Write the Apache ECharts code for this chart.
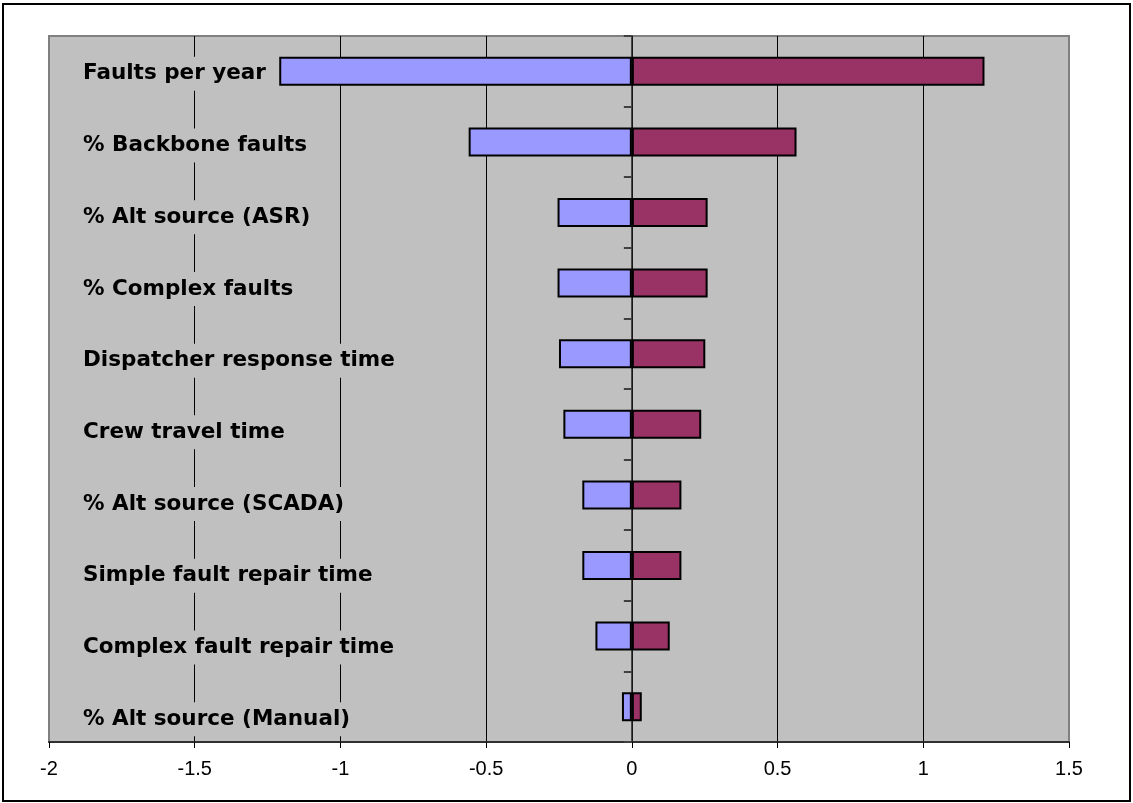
<!DOCTYPE html>
<html>
<head>
<meta charset="utf-8">
<title>Sensitivity tornado chart</title>
<script src="https://cdn.jsdelivr.net/npm/echarts@6/dist/echarts.min.js"></script>
<style>
  html, body { margin: 0; padding: 0; background: #ffffff; }
  #chart { width: 1133px; height: 803px; }
</style>
</head>
<body>
<div id="chart"></div>
<script>
// Input parameters, top to bottom
const categories = [
  'Faults per year',
  '% Backbone faults',
  '% Alt source (ASR)',
  '% Complex faults',
  'Dispatcher response time',
  'Crew travel time',
  '% Alt source (SCADA)',
  'Simple fault repair time',
  'Complex fault repair time',
  '% Alt source (Manual)'
];

// Change in result when each parameter is moved low / high
const lowValues  = [-1.21, -0.56, -0.255, -0.255, -0.25, -0.235, -0.17, -0.17, -0.125, -0.034];
const highValues = [ 1.21,  0.565, 0.26,   0.26,   0.252, 0.238,  0.17,  0.17,  0.13,   0.034];

// Horizontal scale
const xMin = -2;
const xMax = 1.5;
const xStep = 0.5;

const chart = echarts.init(document.getElementById('chart'), null, { renderer: 'canvas' });

const option = {
  backgroundColor: '#ffffff',
  animation: false,
  graphic: [{
    type: 'rect',
    shape: { x: 3, y: 4, width: 1127, height: 797 },
    style: { fill: 'none', stroke: '#000000', lineWidth: 2 },
    z: 100,
    silent: true
  }],
  grid: [
    {
      left: 49, top: 36, width: 1020, height: 706,
      show: true,
      backgroundColor: '#c0c0c0',
      borderColor: '#808080',
      borderWidth: 2
    },
    {
      // label lane for parameter names
      left: 49, top: 38, width: 1020, height: 717,
      show: false
    }
  ],
  xAxis: [
    {
      type: 'value',
      gridIndex: 0,
      min: xMin, max: xMax, interval: xStep,
      axisLine: { show: true, onZero: false, lineStyle: { color: '#303030', width: 2 } },
      axisTick: { show: true, inside: false, length: 6, lineStyle: { color: '#000000', width: 1 } },
      axisLabel: {
        show: true, margin: 17, color: '#000000',
        fontFamily: 'Liberation Sans, Arial, sans-serif', fontSize: 20
      },
      splitLine: {
        show: true, showMinLine: false, showMaxLine: false,
        lineStyle: { color: '#000000', width: 1 }
      }
    },
    {
      type: 'value',
      gridIndex: 1,
      min: xMin, max: xMax,
      show: false
    }
  ],
  yAxis: [
    {
      type: 'category',
      gridIndex: 0,
      data: categories,
      inverse: true,
      axisLine: { show: true, onZero: true, lineStyle: { color: '#202020', width: 1.5 } },
      axisTick: { show: true, inside: false, length: 8, lineStyle: { color: '#404040', width: 2 } },
      axisLabel: { show: false },
      splitLine: { show: false }
    },
    {
      type: 'category',
      gridIndex: 1,
      data: categories,
      inverse: true,
      z: 5,
      axisLine: { show: false },
      axisTick: { show: false },
      splitLine: { show: false },
      axisLabel: {
        show: true,
        inside: true,
        interval: 0,
        margin: 32,
        color: '#000000',
        fontFamily: 'DejaVu Sans, Liberation Sans, Arial, sans-serif',
        fontWeight: 'bold',
        fontSize: 21.5,
        backgroundColor: '#c0c0c0',
        padding: [6, 2, 6, 2]
      }
    }
  ],
  series: [
    {
      name: 'Low',
      type: 'bar',
      xAxisIndex: 0,
      yAxisIndex: 0,
      data: lowValues,
      barWidth: 29,
      barGap: '-100%',
      itemStyle: { color: '#9999ff', borderColor: '#000000', borderWidth: 2 }
    },
    {
      name: 'High',
      type: 'bar',
      xAxisIndex: 0,
      yAxisIndex: 0,
      data: highValues,
      barWidth: 29,
      barGap: '-100%',
      itemStyle: { color: '#993366', borderColor: '#000000', borderWidth: 2 }
    }
  ]
};

chart.setOption(option);
</script>
</body>
</html>
